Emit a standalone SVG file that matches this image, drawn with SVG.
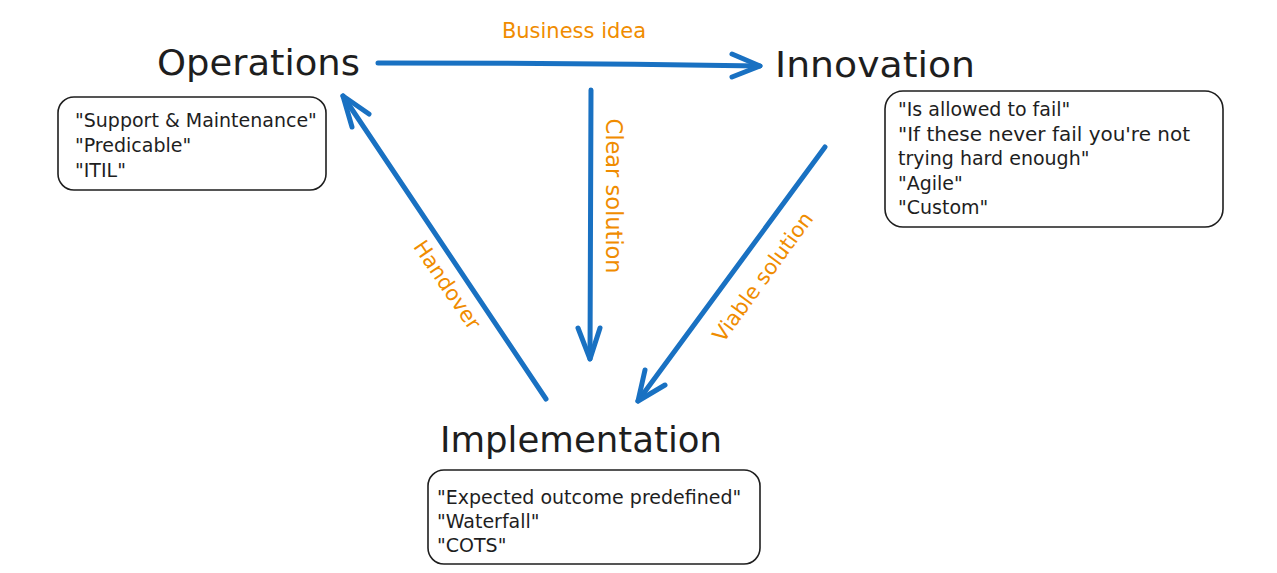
<svg xmlns="http://www.w3.org/2000/svg" width="1277" height="573" viewBox="0 0 1277 573">
<style>
.title{font-family:"DejaVu Sans",sans-serif;font-size:36px;fill:#1e1e1e}
.body{font-family:"DejaVu Sans",sans-serif;font-size:19px;fill:#1e1e1e}
.lbl{font-family:"DejaVu Sans",sans-serif;font-size:21px;fill:#f08c00;text-anchor:middle;dominant-baseline:central}
.box{fill:none;stroke:#1e1e1e;stroke-width:1.6}
.arr{fill:none;stroke:#1971c2;stroke-width:5;stroke-linecap:round;stroke-linejoin:round}
</style>
<rect width="1277" height="573" fill="#ffffff"/>
<g id="operations">
<text class="title" x="157" y="75" textLength="203" lengthAdjust="spacingAndGlyphs">Operations</text>
<rect class="box" x="58" y="97" width="268" height="93" rx="16"/>
<text class="body" x="75" y="127">"Support &amp; Maintenance"</text>
<text class="body" x="75" y="152">"Predicable"</text>
<text class="body" x="75" y="177">"ITIL"</text>
</g>
<g id="innovation">
<text class="title" x="775" y="77" textLength="200" lengthAdjust="spacingAndGlyphs">Innovation</text>
<rect class="box" x="885" y="91" width="338" height="136" rx="18"/>
<text class="body" x="898" y="116">"Is allowed to fail"</text>
<text class="body" x="898" y="141" textLength="292" lengthAdjust="spacingAndGlyphs">"If these never fail you're not</text>
<text class="body" x="898" y="165">trying hard enough"</text>
<text class="body" x="898" y="190">"Agile"</text>
<text class="body" x="898" y="214">"Custom"</text>
</g>
<g id="implementation">
<text class="title" x="440" y="452" textLength="282" lengthAdjust="spacingAndGlyphs">Implementation</text>
<rect class="box" x="428" y="470" width="332" height="94" rx="16"/>
<text class="body" x="437" y="504">"Expected outcome predefined"</text>
<text class="body" x="437" y="528">"Waterfall"</text>
<text class="body" x="437" y="552">"COTS"</text>
</g>
<g id="connectors">
<path class="arr" d="M378 63 Q570 63 760 66"/>
<path class="arr" d="M732 54 L760 66 L732 77"/>
<text class="lbl" x="574" y="31">Business idea</text>
<path class="arr" d="M591 90 L590 359"/>
<path class="arr" d="M578 328 L590 359 L600 328"/>
<text class="lbl" transform="translate(614 196) rotate(90)" style="font-size:22.5px">Clear solution</text>
<path class="arr" d="M546 399 L343 96"/>
<path class="arr" d="M352 127 L343 96 L369 114"/>
<text class="lbl" transform="translate(447 285) rotate(56)">Handover</text>
<path class="arr" d="M825 147 L638 401"/>
<path class="arr" d="M645 370 L638 401 L665 385"/>
<text class="lbl" transform="translate(763 277) rotate(-54)">Viable solution</text>
</g>
</svg>
